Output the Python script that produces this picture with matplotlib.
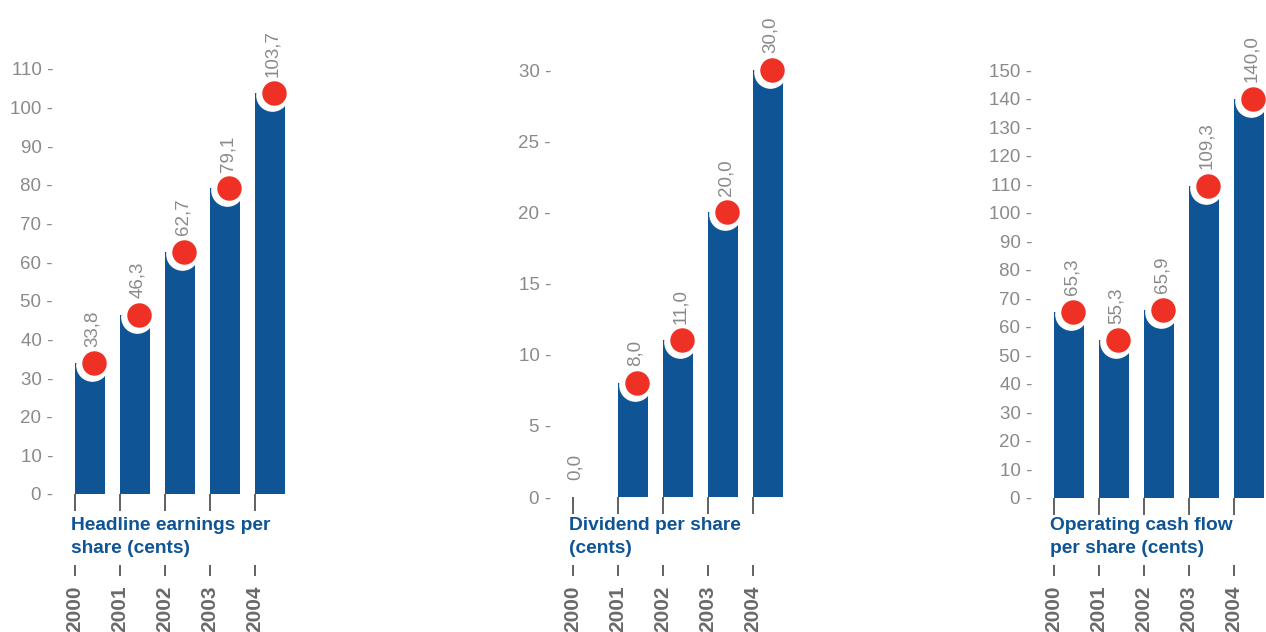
import matplotlib
matplotlib.use("Agg")
import matplotlib.pyplot as plt
import matplotlib.transforms as mtransforms
import numpy as np

plt.rcParams['font.family'] = ['Liberation Sans', 'DejaVu Sans']

years = ['2000', '2001', '2002', '2003', '2004']
heps = [33.8, 46.3, 62.7, 79.1, 103.7]
dps = [0.0, 8.0, 11.0, 20.0, 30.0]
ocf = [65.3, 55.3, 65.9, 109.3, 140.0]
titles = ['Headline earnings per\nshare (cents)',
          'Dividend per share\n(cents)',
          'Operating cash flow\nper share (cents)']
yticks_list = [np.arange(0, 111, 10), np.arange(0, 31, 5), np.arange(0, 151, 10)]

BLUE = '#0f5494'
RED = '#ee3124'
GREY = '#8a8a8a'
DARK = '#6a6a6a'

W, H = 1266, 632
fig = plt.figure(figsize=(W / 100, H / 100), dpi=100)

# (left px, right px, first tick px, zero line px, top of y range)
layout = [(60, 295, 75, 494, 125.27),
          (558, 793, 573, 497, 34.22),
          (1039, 1266, 1054, 498, 171.03)]
step = 45.0  # px between categories

for vals, title, yt, (lpx, rpx, t0, zpx, ytop) in zip(
        [heps, dps, ocf], titles, yticks_list, layout):
    top_px = 10
    ax = fig.add_axes([lpx / W, 1 - zpx / H, (rpx - lpx) / W, (zpx - top_px) / H])
    x = np.arange(len(years))
    ax.set_xlim((lpx - t0) / step, (rpx - t0) / step)
    ax.set_ylim(0, ytop)

    ax.bar(x, vals, width=30 / step, align='edge', color=BLUE, zorder=2)

    halo = mtransforms.offset_copy(ax.transData, fig=fig, x=-1.5, y=-2, units='dots')
    for xi, v in zip(x, vals):
        if v == 0:
            ax.annotate(f'{v:.1f}'.replace('.', ','), (xi + 0.04, v),
                        xytext=(0, 12), textcoords='offset points',
                        rotation=90, ha='center', va='bottom',
                        fontsize=13.5, color=GREY)
            continue
        ax.plot(xi + 0.42, v, 'o', ms=22.5, color='white', transform=halo,
                zorder=3, clip_on=False)
        ax.plot(xi + 0.42, v, 'o', ms=16.6, color=RED, zorder=4, clip_on=False)
        ax.annotate(f'{v:.1f}'.replace('.', ','), (xi + 0.39, v),
                    xytext=(0, 12), textcoords='offset points',
                    rotation=90, ha='center', va='bottom',
                    fontsize=13.5, color=GREY, zorder=5)

    for s in ax.spines.values():
        s.set_visible(False)
    ax.set_yticks(yt)
    ax.set_yticklabels([f'{t} -' for t in yt])
    ax.tick_params(axis='y', length=0, pad=5, labelsize=13.5, labelcolor=GREY)
    ax.set_xticks(x)
    ax.set_xticklabels([])
    ax.tick_params(axis='x', length=12, width=1.3, color='#555555', direction='out')

    hax = zpx - top_px
    trans = mtransforms.blended_transform_factory(ax.transData, ax.transAxes)
    ax.text(-4 / step, -(517 - zpx) / hax, title, transform=trans,
            ha='left', va='top', fontsize=13.8, fontweight='bold',
            color=BLUE, linespacing=1.45)

    sec = ax.secondary_xaxis(-(565 - zpx) / hax)
    sec.set_xticks(x)
    sec.set_xticklabels(years, rotation=90, fontsize=15, fontweight='bold',
                        color=DARK)
    sec.tick_params(axis='x', length=8, width=1.3, color='#555555', pad=7)
    sec.spines['bottom'].set_visible(False)

fig.savefig('out.png', dpi=100)
